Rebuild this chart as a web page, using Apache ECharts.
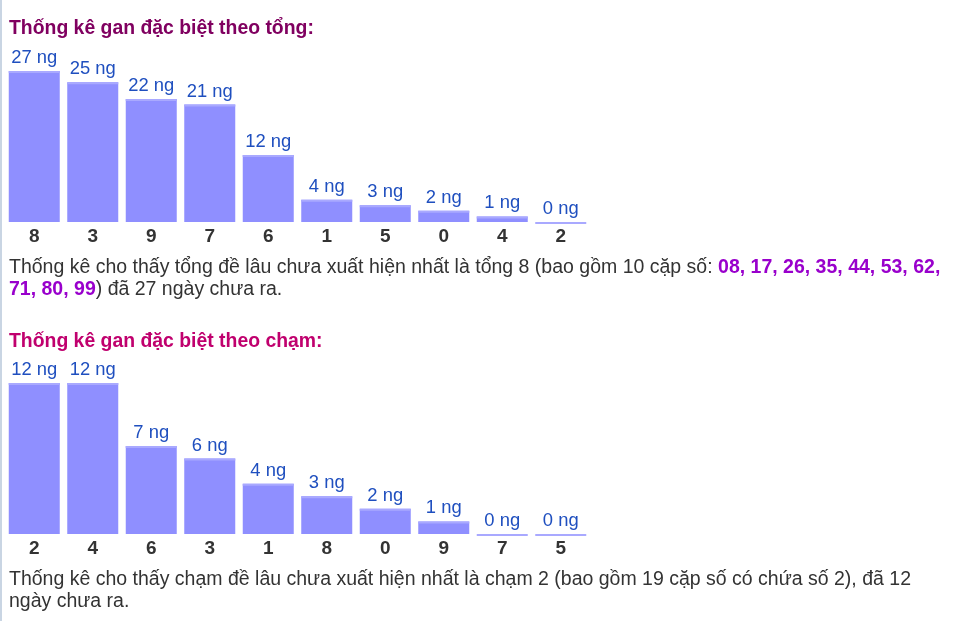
<!DOCTYPE html>
<html>
<head>
<meta charset="utf-8">
<script src="https://cdn.jsdelivr.net/npm/echarts@6/dist/echarts.min.js"></script>
<style>
html,body{margin:0;padding:0;background:#fff;}
#c{width:957px;height:621px;}
</style>
</head>
<body>
<div id="c"></div>
<script>
var tongTitle = 'Thống kê gan đặc biệt theo tổng:';
var tongCats = ['8', '3', '9', '7', '6', '1', '5', '0', '4', '2'];
var tongValues = [27, 25, 22, 21, 12, 4, 3, 2, 1, 0];
var chamTitle = 'Thống kê gan đặc biệt theo chạm:';
var chamCats = ['2', '4', '6', '3', '1', '8', '0', '9', '7', '5'];
var chamValues = [12, 12, 7, 6, 4, 3, 2, 1, 0, 0];
var tongPairs = ['08', '17', '26', '35', '44', '53', '62', '71', '80', '99'];

var FONT = 'Arial, "Liberation Sans", sans-serif';
var BAR = '#8f8fff';
var BAR_TOP = '#a9a9ff';

function barSeries(idx, data) {
  return [{
    type: 'bar', xAxisIndex: idx, yAxisIndex: idx, data: data, barWidth: 51,
    itemStyle: { color: BAR },
    label: { show: true, position: 'top', distance: 4, formatter: '{c} ng',
             color: '#1f4fbf', fontFamily: FONT, fontSize: 18.4 },
    silent: true, animation: false
  }, {
    type: 'pictorialBar', xAxisIndex: idx, yAxisIndex: idx, data: data,
    symbol: 'rect', symbolSize: [51, 2], symbolPosition: 'end',
    itemStyle: { color: BAR_TOP }, silent: true, animation: false, z: 3
  }];
}

function axes(cats, idx) {
  return {
    type: 'category', gridIndex: idx, data: cats,
    axisLine: { show: false }, axisTick: { show: false },
    axisLabel: { margin: 5, color: '#333', fontWeight: 'bold', fontSize: 19, fontFamily: FONT }
  };
}

var p1a = 'Thống kê cho thấy tổng đề lâu chưa xuất hiện nhất là tổng 8 (bao gồm 10 cặp số: ';
var line1 = '{n|' + p1a + '}{b|' + tongPairs.slice(0, 7).join(', ') + ',}';
var line2 = '{b|' + tongPairs.slice(7).join(', ') + '}{n|) đã 27 ngày chưa ra.}';

var rich = {
  n: { fontFamily: FONT, fontSize: 19.5, fill: '#333333' },
  b: { fontFamily: FONT, fontSize: 19.5, fill: '#9900cc', fontWeight: 'bold' }
};

var chart = echarts.init(document.getElementById('c'));
chart.setOption({
  animation: false,
  grid: [
    { left: 5, width: 585, top: 71, height: 151 },
    { left: 5, width: 585, top: 383, height: 151 }
  ],
  xAxis: [axes(tongCats, 0), axes(chamCats, 1)],
  yAxis: [
    { type: 'value', gridIndex: 0, min: 0, max: 27, show: false },
    { type: 'value', gridIndex: 1, min: 0, max: 12, show: false }
  ],
  series: barSeries(0, tongValues).concat(barSeries(1, chamValues)),
  graphic: [
    { type: 'rect', shape: { x: 0, y: 0, width: 2, height: 621 }, style: { fill: '#c9d5e3' } },
    { type: 'text', x: 9, y: 29, style: { text: tongTitle, fill: '#800060', font: 'bold 19.4px ' + FONT, textVerticalAlign: 'middle' } },
    { type: 'text', x: 9, y: 342, style: { text: chamTitle, fill: '#c0006e', font: 'bold 19.4px ' + FONT, textVerticalAlign: 'middle' } },
    { type: 'text', x: 9, y: 268, style: { text: line1, rich: rich, textVerticalAlign: 'middle' } },
    { type: 'text', x: 9, y: 290, style: { text: line2, rich: rich, textVerticalAlign: 'middle' } },
    { type: 'text', x: 9, y: 580, style: { text: '{n|Thống kê cho thấy chạm đề lâu chưa xuất hiện nhất là chạm 2 (bao gồm 19 cặp số có chứa số 2), đã 12}', rich: rich, textVerticalAlign: 'middle' } },
    { type: 'text', x: 9, y: 602, style: { text: '{n|ngày chưa ra.}', rich: rich, textVerticalAlign: 'middle' } }
  ]
});
</script>
</body>
</html>
